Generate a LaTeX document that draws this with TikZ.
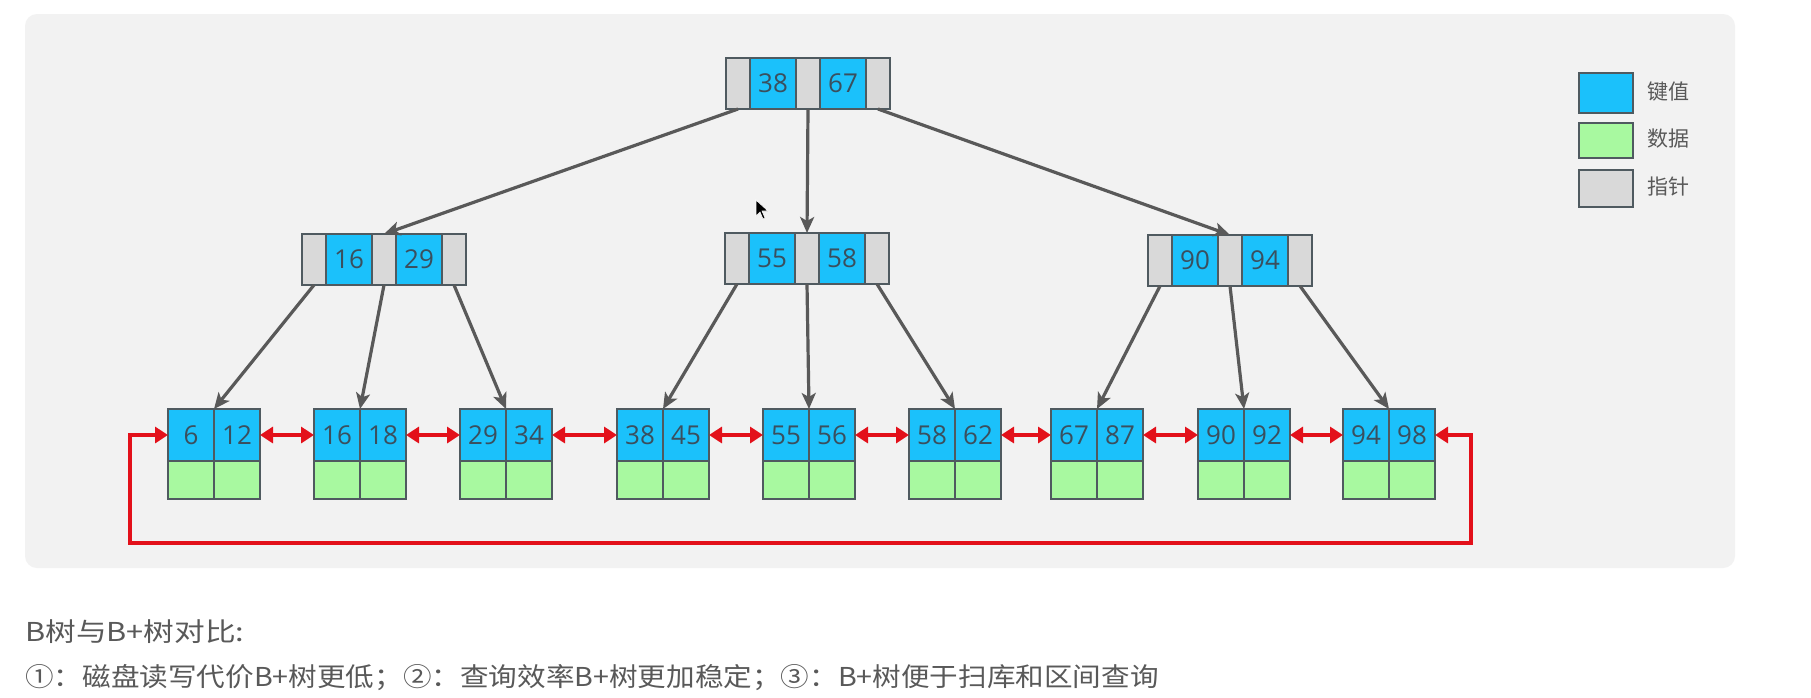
\documentclass[tikz,border=0pt]{standalone}
\usepackage{fontspec}
\setmainfont{Open Sans}
\newfontfamily\cjkfont{Noto Sans CJK SC}
\usetikzlibrary{arrows.meta}

\definecolor{panel}{HTML}{F2F2F2}
\definecolor{keyblue}{HTML}{1BC1FB}
\definecolor{datagreen}{HTML}{A8F9A0}
\definecolor{ptrgray}{HTML}{D9D9D9}
\definecolor{cellline}{HTML}{4F5A60}
\definecolor{numcolor}{HTML}{3A4F5E}
\definecolor{arrowgray}{HTML}{595959}
\definecolor{linkred}{HTML}{E3101A}
\definecolor{textgray}{HTML}{595959}

% internal node: pointer | key | pointer | key | pointer
\newcommand\bptnode[5]{%
  \node[ptrcell] (#1p1) at (#2,#3) {};
  \node[keycell] (#1k1) at (#1p1.north east) {#4};
  \node[ptrcell] (#1p2) at (#1k1.north east) {};
  \node[keycell] (#1k2) at (#1p2.north east) {#5};
  \node[ptrcell] (#1p3) at (#1k2.north east) {};
}
% leaf node: two keys with their data cells below
\newcommand\bpleaf[5]{%
  \node[keycell, minimum height=52pt] (#1k1) at (#2,#3) {#4};
  \node[keycell, minimum height=52pt] (#1k2) at (#1k1.north east) {#5};
  \node[datacell] (#1d1) at (#1k1.south west) {};
  \node[datacell] (#1d2) at (#1k2.south west) {};
}

\begin{document}
\begin{tikzpicture}[x=1pt, y=-1pt,
  cell/.style={draw=cellline, line width=1.3pt, inner sep=0pt, outer sep=0pt,
    anchor=north west, text=numcolor, font=\fontsize{26}{26}\selectfont},
  ptrcell/.style={cell, fill=ptrgray, minimum width=24pt, minimum height=51pt},
  keycell/.style={cell, fill=keyblue, minimum width=46pt, minimum height=51pt},
  datacell/.style={cell, fill=datagreen, minimum width=46pt, minimum height=38pt},
  treearrow/.style={draw=arrowgray, line width=3.2pt,
    arrows={-Stealth[length=16pt,width=14pt,inset=4pt]}},
  redarrow/.style={draw=linkred, line width=4pt,
    arrows={Triangle[length=13pt,width=16pt]-Triangle[length=13pt,width=16pt]}},
  legtext/.style={anchor=west, text=textgray, font=\cjkfont\fontsize{21}{21}\selectfont},
  bodytext/.style={anchor=west, text=textgray, inner sep=0pt, font=\cjkfont\fontsize{26}{26}\selectfont}
]
\useasboundingbox (0,0) rectangle (1811,697);
\fill[white] (0,0) rectangle (1811,697);
\fill[panel, rounded corners=12pt] (25,14) rectangle (1735,568);

% root and second level
\bptnode{R}{726}{58}{38}{67}
\bptnode{A}{302}{234}{16}{29}
\bptnode{B}{725}{233}{55}{58}
\bptnode{C}{1148}{235}{90}{94}

% leaves
\bpleaf{La}{168}{409}{6}{12}
\bpleaf{Lb}{314}{409}{16}{18}
\bpleaf{Lc}{460}{409}{29}{34}
\bpleaf{Ld}{617}{409}{38}{45}
\bpleaf{Le}{763}{409}{55}{56}
\bpleaf{Lf}{909}{409}{58}{62}
\bpleaf{Lg}{1051}{409}{67}{87}
\bpleaf{Lh}{1198}{409}{90}{92}
\bpleaf{Li}{1343}{409}{94}{98}

% tree pointers
\draw[treearrow] (Rp1.south) -- (Ap2.north);
\draw[treearrow] (Rp2.south) -- (Bp2.north);
\draw[treearrow] (Rp3.south) -- (Cp2.north);
\draw[treearrow] (Ap1.south) -- (Lak1.north east);
\draw[treearrow] (Ap2.south) -- (Lbk1.north east);
\draw[treearrow] (Ap3.south) -- (Lck1.north east);
\draw[treearrow] (Bp1.south) -- (Ldk1.north east);
\draw[treearrow] (Bp2.south) -- (Lek1.north east);
\draw[treearrow] (Bp3.south) -- (Lfk1.north east);
\draw[treearrow] (Cp1.south) -- (Lgk1.north east);
\draw[treearrow] (Cp2.south) -- (Lhk1.north east);
\draw[treearrow] (Cp3.south) -- (Lik1.north east);

% leaf chain
\draw[redarrow] (Lak2.east) -- (Lbk1.west);
\draw[redarrow] (Lbk2.east) -- (Lck1.west);
\draw[redarrow] (Lck2.east) -- (Ldk1.west);
\draw[redarrow] (Ldk2.east) -- (Lek1.west);
\draw[redarrow] (Lek2.east) -- (Lfk1.west);
\draw[redarrow] (Lfk2.east) -- (Lgk1.west);
\draw[redarrow] (Lgk2.east) -- (Lhk1.west);
\draw[redarrow] (Lhk2.east) -- (Lik1.west);
\coordinate (loopR) at (1471,543);
\coordinate (loopL) at (130,543);
\draw[redarrow] (Lik2.east) -| (loopR) -- (loopL) |- (Lak1.west);

% legend
\node[keycell, minimum width=54pt, minimum height=40pt] (legKey) at (1579,73) {};
\node[datacell, minimum width=54pt, minimum height=35pt] (legData) at (1579,123) {};
\node[ptrcell, minimum width=54pt, minimum height=37pt] (legPtr) at (1579,170) {};
\node[legtext] (legKeyT) at (1644,92) {键值};
\node[legtext] (legDataT) at (1644,139) {数据};
\node[legtext] (legPtrT) at (1644,187) {指针};

% mouse pointer
\filldraw[fill=black, draw=white, line width=0.6pt]
  (756,200) -- (756,216) -- (760,212) -- (763,219) -- (765,218) -- (762,211) -- (768,211) -- cycle;

% notes below the panel
\node[bodytext] (title) at (25,632) {\scalebox{1.18}[1]{B树与B+树对比:}};
\node[bodytext] (notes) at (25,678) {\scalebox{1.1}[1]{①：磁盘读写代价B+树更低；②：查询效率B+树更加稳定；③：B+树便于扫库和区间查询}};
\end{tikzpicture}
\end{document}
